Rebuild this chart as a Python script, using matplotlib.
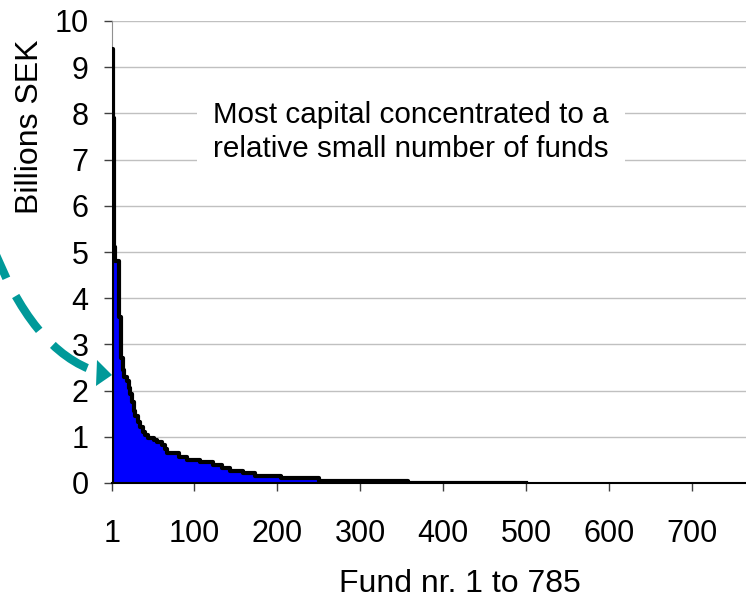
import numpy as np
import matplotlib
matplotlib.use("Agg")
import matplotlib.pyplot as plt
from matplotlib.path import Path
from matplotlib.patches import PathPatch, Polygon
import matplotlib.transforms as mtransforms

plt.rcParams['font.family'] = ['Liberation Sans', 'DejaVu Sans']

# step data: fund number where each level starts, and the capital (billions SEK)
fund_start = [1, 2, 3, 4, 5, 9, 10, 12, 14, 16, 19, 21, 23, 25, 27, 29, 32, 35, 38,
              41, 44, 51, 55, 61, 65, 67, 82, 91, 107, 123, 133, 143, 159, 173, 204,
              250, 358, 500]
capital = [9.4, 7.9, 7.2, 5.1, 4.8, 3.7, 3.6, 2.7, 2.45, 2.3, 2.2, 2.05, 1.93, 1.75, 1.55,
           1.45, 1.33, 1.22, 1.1, 1.03, 0.98, 0.94, 0.88, 0.82, 0.74, 0.64, 0.57, 0.5, 0.45,
           0.39, 0.32, 0.26, 0.21, 0.15, 0.1, 0.05, 0.01, 0.0]
n_funds = 785
xticks = [1, 100, 200, 300, 400, 500, 600, 700]
yticks = list(range(0, 11))

W, H = 746, 598
fig = plt.figure(figsize=(W / 100, H / 100), dpi=100)
ax = fig.add_axes([112 / W, 1 - 483 / H, (763 - 112) / W, (483 - 21) / H])

ax.fill_between(fund_start, capital, 0, step='post', color='#0000ff', lw=0, zorder=2)
ax.step(fund_start, capital, where='post', color='black', lw=3, zorder=3)
ax.vlines(fund_start[0], 0, capital[0], color='black', lw=3, zorder=3)

ax.set_xlim(1, n_funds)
ax.set_ylim(0, 10)
ax.set_xticks(xticks)
ax.set_yticks(yticks)
ax.tick_params(axis='x', labelsize=22, length=6, width=1, color='#404040', pad=20)
ax.tick_params(axis='y', labelsize=22, length=6, width=1, color='#404040', pad=11)
ax.grid(axis='y', color='#c0c0c0', lw=1)
ax.set_axisbelow(True)
for s in ['top', 'right']:
    ax.spines[s].set_visible(False)
ax.spines['left'].set_color('#909090')
ax.spines['bottom'].set_color('black')
ax.spines['bottom'].set_linewidth(1.5)

# pixel coordinates (origin top-left) -> figure
pix = mtransforms.Affine2D().scale(1 / W, -1 / H).translate(0, 1) + fig.transFigure

fig.text(30, 127, 'Billions SEK', transform=pix, rotation=90, fontsize=23,
         ha='center', va='center')
fig.text(460, 584, 'Fund nr. 1 to 785', transform=pix, fontsize=23,
         ha='center', va='center')

ax.text(411, 132, 'Most capital concentrated to a\nrelative small number of funds',
        transform=pix, fontsize=21.3, ha='center', va='center', linespacing=1.3,
        bbox=dict(facecolor='white', edgecolor='none', pad=12), zorder=4)

# dashed curved arrow
arc = Path([(-10, 240), (32, 352), (98, 372)], [Path.MOVETO, Path.CURVE3, Path.CURVE3])
fig.patches.append(PathPatch(arc, transform=pix, fill=False, edgecolor='#009999', lw=6,
                             linestyle=(0, (5, 2.4)), capstyle='butt'))
fig.patches.append(Polygon([(97, 360), (96, 386), (112, 375)], closed=True,
                           transform=pix, facecolor='#009999', edgecolor='none'))

fig.savefig('out.png', dpi=100)
